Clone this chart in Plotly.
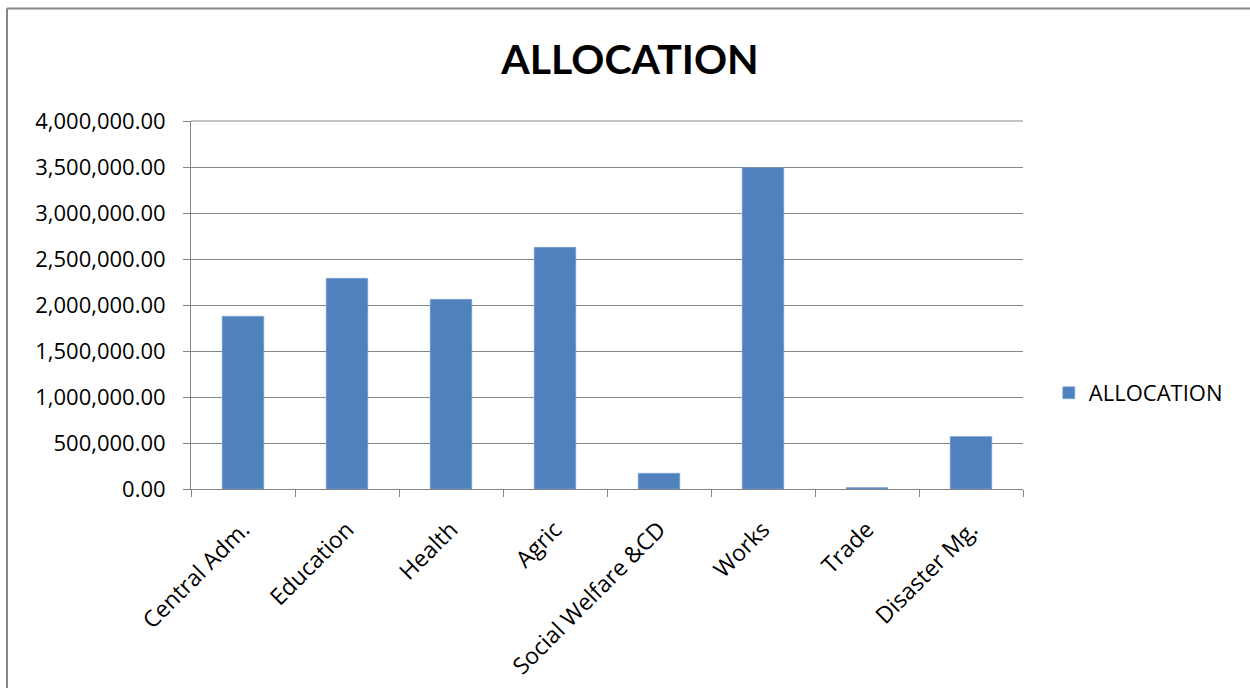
import plotly.graph_objects as go

categories = ["Central Adm.", "Education", "Health", "Agric", "Social Welfare &CD",
              "Works", "Trade", "Disaster Mg."]
allocation = [1877000, 2290000, 2062000, 2627000, 171000, 3493000, 15000, 570000]
y_ticks = [0, 500000, 1000000, 1500000, 2000000, 2500000, 3000000, 3500000, 4000000]
y_tick_labels = ["0.00", "500,000.00", "1,000,000.00", "1,500,000.00", "2,000,000.00",
                 "2,500,000.00", "3,000,000.00", "3,500,000.00", "4,000,000.00"]

TFONT = "Lato"
FONT = "Open Sans"
GRID = "#868686"

fig = go.Figure()
fig.add_trace(go.Bar(
    x=categories, y=allocation, name="ALLOCATION",
    marker=dict(color="#4F81BD", line=dict(color="#7FA3D1", width=0.6)),
    width=0.4,
))

fig.update_layout(
    width=1250, height=688,
    paper_bgcolor="white", plot_bgcolor="white",
    margin=dict(l=191, r=227, t=121, b=199, autoexpand=False),
    font=dict(family=FONT, size=22, color="#000000"),
    title=dict(text="<b>ALLOCATION</b>", x=630/1250, xanchor="center",
               y=1 - 60/688, yanchor="middle",
               font=dict(family=TFONT, size=41, color="#000000")),
    showlegend=True,
    legend=dict(x=1.031, xanchor="left", y=0.261, yanchor="middle",
                font=dict(family=FONT, size=22, color="#000000"),
                bgcolor="rgba(0,0,0,0)"),
    xaxis=dict(
        automargin=False,
        showline=True, linecolor=GRID, linewidth=1,
        ticks="outside", tickson="boundaries", ticklen=7, tickcolor=GRID,
        tickangle=-45, tickfont=dict(family=FONT, size=23, color="#000000"),
        ticklabelstandoff=17, ticklabelshift=0,
        showgrid=False,
    ),
    yaxis=dict(
        automargin=False,
        range=[0, 4000000], tickvals=y_ticks, ticktext=y_tick_labels,
        showline=True, linecolor=GRID, linewidth=1,
        ticks="outside", ticklen=7, tickcolor=GRID,
        showgrid=True, gridcolor=GRID, gridwidth=1,
        tickfont=dict(family=FONT, size=22, color="#000000"),
        ticklabelstandoff=13,
        zeroline=False,
    ),
    shapes=[
        dict(type="line", xref="paper", yref="paper", x0=0, x1=1, y0=1, y1=1,
             line=dict(color=GRID, width=1)),
        dict(type="line", xref="paper", yref="paper", x0=-184/832, x1=1059/832,
             y0=1 + (121 - 8.5)/368, y1=1 + (121 - 8.5)/368,
             line=dict(color=GRID, width=2)),
        dict(type="line", xref="paper", yref="paper", x0=-184/832, x1=-184/832,
             y0=1 + (121 - 8.5)/368, y1=-199/368,
             line=dict(color=GRID, width=2)),
    ],
)

fig.write_html("out.html")
